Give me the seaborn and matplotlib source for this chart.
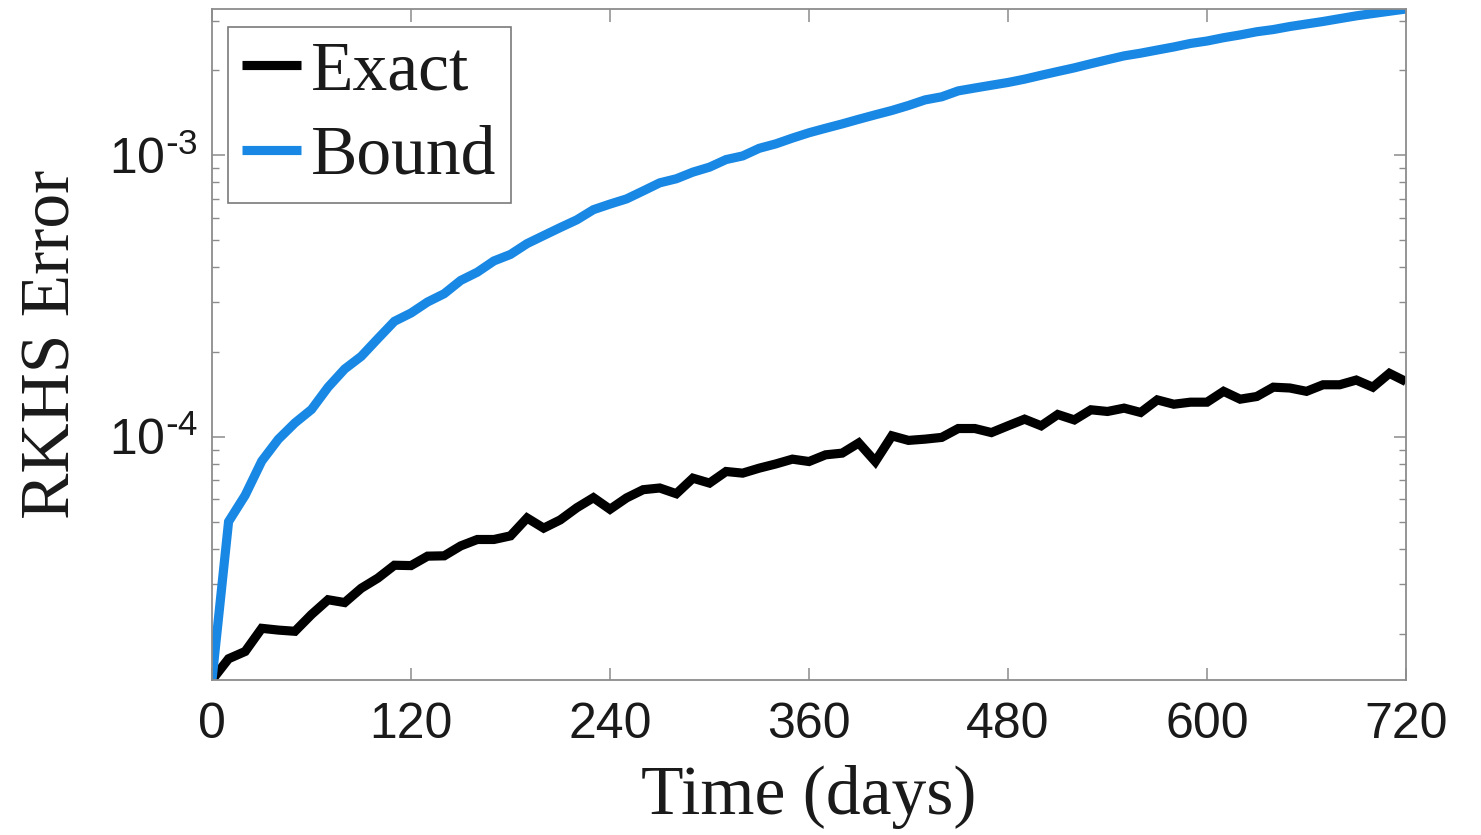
import numpy as np
import pandas as pd
import matplotlib
matplotlib.use("Agg")
import matplotlib.pyplot as plt
import seaborn as sns
from matplotlib.ticker import LogLocator, FuncFormatter, NullFormatter

days = list(range(0, 721, 10))

exact = [1.37e-5, 1.63e-5, 1.73e-5, 2.09e-5, 2.06e-5, 2.04e-5, 2.34e-5, 2.64e-5, 2.58e-5, 2.90e-5,
         3.15e-5, 3.50e-5, 3.49e-5, 3.77e-5, 3.78e-5, 4.10e-5, 4.32e-5, 4.32e-5, 4.45e-5, 5.15e-5,
         4.74e-5, 5.07e-5, 5.60e-5, 6.08e-5, 5.53e-5, 6.07e-5, 6.49e-5, 6.58e-5, 6.28e-5, 7.13e-5,
         6.85e-5, 7.53e-5, 7.43e-5, 7.74e-5, 8.01e-5, 8.33e-5, 8.17e-5, 8.63e-5, 8.75e-5, 9.51e-5,
         8.17e-5, 1.008e-4, 9.71e-5, 9.81e-5, 9.95e-5, 1.07e-4, 1.07e-4, 1.035e-4, 1.094e-4, 1.155e-4,
         1.094e-4, 1.20e-4, 1.148e-4, 1.247e-4, 1.23e-4, 1.264e-4, 1.22e-4, 1.352e-4, 1.305e-4, 1.327e-4,
         1.327e-4, 1.45e-4, 1.36e-4, 1.39e-4, 1.50e-4, 1.49e-4, 1.45e-4, 1.53e-4, 1.53e-4, 1.59e-4,
         1.50e-4, 1.68e-4, 1.57e-4]

bound = [1.37e-5, 5.0e-5, 6.2e-5, 8.2e-5, 9.8e-5, 1.12e-4, 1.25e-4, 1.50e-4, 1.74e-4, 1.93e-4,
         2.23e-4, 2.57e-4, 2.75e-4, 3.01e-4, 3.22e-4, 3.59e-4, 3.84e-4, 4.21e-4, 4.44e-4, 4.85e-4,
         5.18e-4, 5.53e-4, 5.89e-4, 6.40e-4, 6.70e-4, 6.99e-4, 7.46e-4, 7.97e-4, 8.24e-4, 8.70e-4,
         9.06e-4, 9.64e-4, 9.93e-4, 1.057e-3, 1.096e-3, 1.149e-3, 1.20e-3, 1.245e-3, 1.29e-3, 1.34e-3,
         1.39e-3, 1.44e-3, 1.50e-3, 1.57e-3, 1.61e-3, 1.69e-3, 1.73e-3, 1.77e-3, 1.81e-3, 1.86e-3,
         1.92e-3, 1.98e-3, 2.04e-3, 2.11e-3, 2.18e-3, 2.25e-3, 2.30e-3, 2.36e-3, 2.42e-3, 2.49e-3,
         2.54e-3, 2.61e-3, 2.67e-3, 2.74e-3, 2.79e-3, 2.86e-3, 2.92e-3, 2.98e-3, 3.05e-3, 3.12e-3,
         3.18e-3, 3.24e-3, 3.30e-3]

series_names = ["Exact", "Bound"]
series_colors = ["#000000", "#1888E4"]
x_ticks = [0, 120, 240, 360, 480, 600, 720]

sns.set_theme(style="white")
plt.rcParams["font.family"] = ["Liberation Sans", "DejaVu Sans"]
plt.rcParams["mathtext.default"] = "regular"

df = pd.DataFrame({
    "Time": days * 2,
    "Error": exact + bound,
    "Series": [series_names[0]] * len(days) + [series_names[1]] * len(days),
})

fig = plt.figure(figsize=(14.81, 8.35), dpi=100)
ax = fig.add_axes([212 / 1481, 1 - 680 / 835, (1406 - 212) / 1481, (680 - 9) / 835])

sns.lineplot(data=df, x="Time", y="Error", hue="Series", palette=series_colors,
             linewidth=6.6, ax=ax, legend=True)
for ln in ax.lines:
    ln.set_solid_joinstyle("miter")
    ln.set_solid_capstyle("butt")

ax.set_yscale("log")
ax.set_xlim(days[0], days[-1])
ax.set_ylim(min(exact), max(bound))
ax.set_xticks(x_ticks)
ax.set_xticklabels([str(t) for t in x_ticks])


def log_fmt(v, pos):
    e = int(round(np.log10(v)))
    if e < 0:
        return r"10$^{\text{-}%d}$" % (-e)
    return r"10$^{%d}$" % e


ax.yaxis.set_major_locator(LogLocator(base=10, numticks=10))
ax.yaxis.set_major_formatter(FuncFormatter(log_fmt))
ax.yaxis.set_minor_locator(LogLocator(base=10, subs=np.arange(2, 10), numticks=20))
ax.yaxis.set_minor_formatter(NullFormatter())

spine_col = "#8c8c8c"
for s in ax.spines.values():
    s.set_visible(True)
    s.set_color(spine_col)
    s.set_linewidth(1.3)

ax.tick_params(axis="both", which="major", direction="in", length=9, width=1.1,
               color=spine_col, labelsize=36, labelcolor="#1a1a1a",
               top=True, right=True, bottom=True, left=True)
ax.tick_params(axis="both", which="minor", direction="in", length=5, width=1.0,
               color=spine_col, top=True, right=True, left=True)
ax.tick_params(axis="x", pad=16)
ax.tick_params(axis="y", pad=10)

ax.set_xlabel("Time (days)", family=["Liberation Serif"], fontsize=50, color="#1a1a1a", labelpad=12)
ax.set_ylabel("RKHS Error", family=["Liberation Serif"], fontsize=50, color="#1a1a1a", labelpad=18)

leg = ax.legend(loc="upper left", bbox_to_anchor=(16 / 1194, 1 - 18 / 671), borderaxespad=0,
                frameon=True, fancybox=False, framealpha=1, edgecolor="#7a7a7a",
                prop={"family": "Liberation Serif", "size": 50}, handlelength=0.85,
                handletextpad=0.15, borderpad=0.2, labelspacing=0.3)
leg.get_frame().set_linewidth(1.2)
for h in leg.get_lines():
    h.set_linewidth(6.6)
for t in leg.get_texts():
    t.set_color("#1a1a1a")

fig.savefig("out.png", dpi=100)
